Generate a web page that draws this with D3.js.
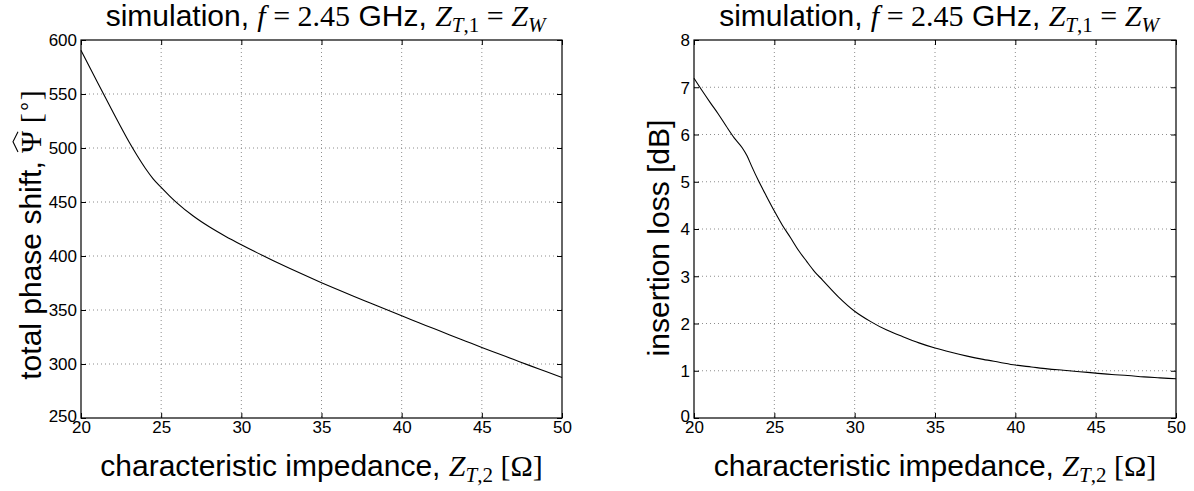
<!DOCTYPE html>
<html>
<head>
<meta charset="utf-8">
<script src="https://cdn.jsdelivr.net/npm/d3@7"></script>
<style>
  html, body { margin: 0; padding: 0; background: #fff; }
  svg { display: block; }
  text { font-family: "Liberation Sans", Arial, Helvetica, sans-serif; fill: #000; }
  .m { font-family: "Liberation Serif", "Times New Roman", serif; }
  .mi { font-family: "Liberation Serif", "Times New Roman", serif; font-style: italic; }
</style>
</head>
<body>
<svg id="chart" width="1194" height="491"></svg>
<script>
// ---------- data ----------
const xTicks = [20, 25, 30, 35, 40, 45, 50];

const phaseX = [20, 21, 22, 23, 23.5, 24, 24.5, 25, 25.5, 26, 27, 28, 29, 30, 31, 32, 33, 34, 35, 36, 37, 38, 39, 40, 41, 42, 43, 44, 45, 46, 47, 48, 49, 50];
const phaseY = [590.5, 561.5, 533, 505.5, 493, 481.5, 471.5, 463.5, 456, 449, 437, 427, 418.3, 410.4, 402.9, 395.7, 388.7, 381.9, 375.3, 369, 362.8, 356.7, 350.6, 344.6, 338.7, 332.8, 326.9, 321.1, 315.3, 309.7, 304.1, 298.5, 293, 287.5];
const phaseTicks = [250, 300, 350, 400, 450, 500, 550, 600];

const lossX = [20, 20.5, 21, 21.5, 22, 22.5, 23, 23.3, 23.6, 24, 24.5, 25, 25.5, 26, 26.5, 27, 27.5, 28, 29, 30, 31, 32, 33, 34, 35, 36, 37, 38, 39, 40, 41, 42, 43, 44, 45, 46, 47, 48, 49, 50];
const lossY = [7.19, 6.93, 6.68, 6.44, 6.18, 5.93, 5.72, 5.55, 5.32, 5.03, 4.70, 4.38, 4.08, 3.82, 3.55, 3.32, 3.10, 2.92, 2.56, 2.26, 2.04, 1.86, 1.72, 1.59, 1.48, 1.39, 1.31, 1.24, 1.18, 1.12, 1.08, 1.04, 1.01, 0.98, 0.95, 0.92, 0.90, 0.87, 0.85, 0.83];
const lossTicks = [0, 1, 2, 3, 4, 5, 6, 7, 8];

// ---------- layout ----------
const svg = d3.select("#chart");
const FS = 30, SUB = 21, TICKFS = 17;
const panels = [
  { left: 81, right: 562, top: 40, bottom: 418, xs: phaseX, ys: phaseY, yTicks: phaseTicks, yDomain: [250, 600], ylabel: "phase", ylabelX: 41, ylabelY: 235 },
  { left: 694, right: 1176, top: 40, bottom: 418, xs: lossX, ys: lossY, yTicks: lossTicks, yDomain: [0, 8], ylabel: "loss", ylabelX: 669, ylabelY: 238 }
];

function subscriptZ(t, sub1, sub2) {
  t.append("tspan").attr("class", "mi").attr("font-size", FS).text("Z");
  t.append("tspan").attr("class", "mi").attr("font-size", SUB).attr("dy", 6).text(sub1);
  if (sub2) t.append("tspan").attr("class", "m").attr("font-size", SUB).text(sub2);
}

panels.forEach(p => {
  const x = d3.scaleLinear().domain([20, 50]).range([p.left, p.right]);
  const y = d3.scaleLinear().domain(p.yDomain).range([p.bottom, p.top]);
  const g = svg.append("g");

  // grid
  g.append("g").selectAll("line").data(xTicks.slice(1, -1)).join("line")
    .attr("x1", d => x(d)).attr("x2", d => x(d)).attr("y1", p.top).attr("y2", p.bottom)
    .attr("stroke", "#808080").attr("stroke-width", 0.9).attr("stroke-dasharray", "1,3");
  g.append("g").selectAll("line").data(p.yTicks.slice(1, -1)).join("line")
    .attr("x1", p.left).attr("x2", p.right).attr("y1", d => y(d)).attr("y2", d => y(d))
    .attr("stroke", "#808080").attr("stroke-width", 0.9).attr("stroke-dasharray", "1,3");

  // axes (ticks inward, mirrored)
  const tl = 5;
  const ax = g.append("g").attr("transform", `translate(0,${p.bottom})`)
    .call(d3.axisBottom(x).tickValues(xTicks).tickSize(-tl).tickPadding(3).tickFormat(d3.format("d")));
  const axT = g.append("g").attr("transform", `translate(0,${p.top})`)
    .call(d3.axisTop(x).tickValues(xTicks).tickSize(-tl).tickFormat(""));
  const ay = g.append("g").attr("transform", `translate(${p.left},0)`)
    .call(d3.axisLeft(y).tickValues(p.yTicks).tickSize(-tl).tickPadding(4).tickFormat(d3.format("d")));
  const ayR = g.append("g").attr("transform", `translate(${p.right},0)`)
    .call(d3.axisRight(y).tickValues(p.yTicks).tickSize(-tl).tickFormat(""));
  [ax, axT, ay, ayR].forEach(a => {
    a.select(".domain").remove();
    a.selectAll("line").attr("stroke", "#000");
    a.selectAll("text").attr("font-size", TICKFS).attr("font-family", "Liberation Sans, Arial, sans-serif");
  });
  ax.selectAll("text").attr("dy", "0.71em");
  ay.selectAll("text").attr("dy", "0.35em");
  // lowest y tick label sits slightly above the x tick labels (as in the reference corner)
  ay.selectAll("text").filter(d => d === p.yDomain[0]).attr("dy", "0.2em");

  // frame
  g.append("rect").attr("x", p.left).attr("y", p.top)
    .attr("width", p.right - p.left).attr("height", p.bottom - p.top)
    .attr("fill", "none").attr("stroke", "#000").attr("stroke-width", 1.2);

  // curve
  const pts = p.xs.map((v, i) => [v, p.ys[i]]);
  g.append("path").datum(pts)
    .attr("d", d3.line().x(d => x(d[0])).y(d => y(d[1])).curve(d3.curveMonotoneX))
    .attr("fill", "none").attr("stroke", "#000").attr("stroke-width", 1.1);

  // title
  const cx = (p.left + p.right) / 2;
  const t = g.append("text").attr("x", cx + 4).attr("y", 26).attr("text-anchor", "middle").attr("font-size", FS);
  t.append("tspan").text("simulation, ");
  t.append("tspan").attr("class", "mi").text("f");
  t.append("tspan").attr("class", "m").text(" = 2.45");
  t.append("tspan").text(" GHz, ");
  subscriptZ(t, "T", ",1");
  t.append("tspan").attr("class", "m").attr("font-size", FS).attr("dy", -6).text(" = ");
  subscriptZ(t, "W", null);

  // x label
  const xl = g.append("text").attr("x", cx).attr("y", 476).attr("text-anchor", "middle").attr("font-size", FS);
  xl.append("tspan").text("characteristic impedance, ");
  subscriptZ(xl, "T", ",2");
  xl.append("tspan").attr("class", "m").attr("font-size", FS).attr("dy", -6).text(" [Ω]");

  // y label
  const yg = g.append("g").attr("transform", `translate(${p.ylabelX},${p.ylabelY}) rotate(-90)`);
  const yl = yg.append("text").attr("x", 0).attr("y", 0).attr("text-anchor", "middle").attr("font-size", FS);
  if (p.ylabel === "phase") {
    const pre = "total phase shift, ";
    yl.append("tspan").text(pre);
    yl.append("tspan").attr("class", "m").text("Ψ");
    yl.append("tspan").attr("class", "m").text(" [");
    yl.append("tspan").attr("class", "m").attr("font-size", SUB).attr("dy", -11).text("∘");
    yl.append("tspan").attr("class", "m").attr("font-size", FS).attr("dy", 11).text("]");
    // wide hat over Psi
    const ext = yl.node().getExtentOfChar(pre.length);
    const hx0 = ext.x + 1, hx1 = ext.x + ext.width - 1;
    yg.append("path")
      .attr("d", `M${hx0},-23 L${(hx0 + hx1) / 2},-28 L${hx1},-23`)
      .attr("fill", "none").attr("stroke", "#000").attr("stroke-width", 1.1);
  } else {
    yl.text("insertion loss [dB]");
  }
});
</script>
</body>
</html>
